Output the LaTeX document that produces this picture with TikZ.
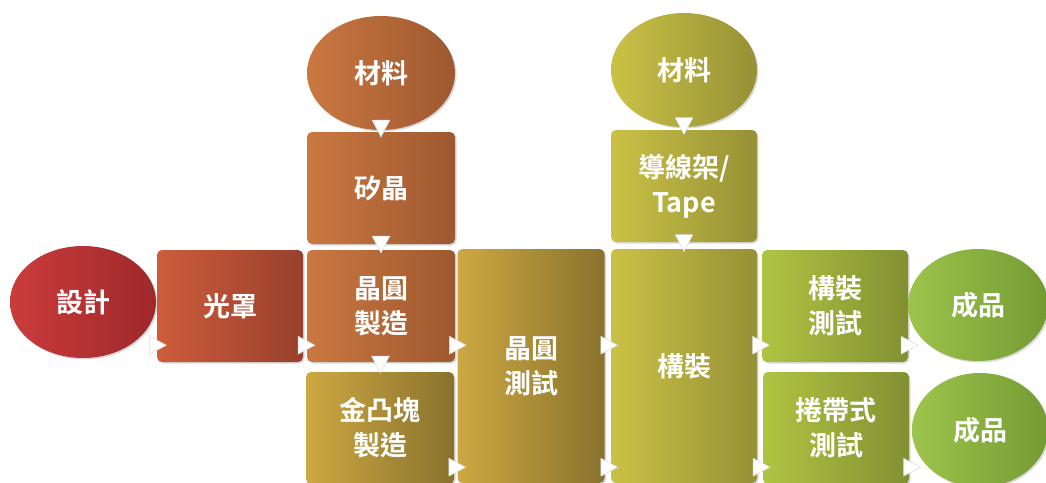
\documentclass[tikz,border=0pt]{standalone}
\usepackage{fontspec}
\setmainfont{Noto Sans CJK TC}[BoldFont={* Bold}]
\usetikzlibrary{calc}
\usetikzlibrary{shapes.geometric}
\usetikzlibrary{shadows}

\definecolor{redL}{RGB}{203,60,60}
\definecolor{redR}{RGB}{158,40,42}
\definecolor{rustL}{RGB}{206,92,60}
\definecolor{rustR}{RGB}{152,64,44}
\definecolor{orgL}{RGB}{202,120,64}
\definecolor{orgR}{RGB}{158,88,48}
\definecolor{goldL}{RGB}{205,168,66}
\definecolor{goldR}{RGB}{138,114,46}
\definecolor{oliveL}{RGB}{202,194,70}
\definecolor{oliveR}{RGB}{150,144,54}
\definecolor{limeL}{RGB}{176,196,66}
\definecolor{limeR}{RGB}{130,144,50}
\definecolor{grnL}{RGB}{157,196,76}
\definecolor{grnR}{RGB}{115,155,50}

\tikzset{
  blk/.style={rectangle, rounded corners=5pt, minimum width=146, minimum height=112,
    inner sep=0, text=white, align=center, font=\fontsize{27}{35}\selectfont\bfseries,
    drop shadow={shadow xshift=1.5pt, shadow yshift=-1.5pt, opacity=.3}},
  oval/.style={blk, ellipse, rounded corners=0pt},
  tri/.style={fill=white, draw=black!15, line width=.5pt},
  rtri/.pic={\filldraw[tri] (-8,-9) -- (9,0) -- (-8,9) -- cycle;},
  dtri/.pic={\filldraw[tri] (-9,-8) -- (9,-8) -- (0,9) -- cycle;}
}

\begin{document}
\begin{tikzpicture}[x=1pt, y=-1pt]
\useasboundingbox (0,0) rectangle (1046,482);
\clip (0,0) rectangle (1046,482);
\node[oval, minimum width=146, minimum height=112, left color=redL, right color=redR] (design) at (83,302) {設計};
\node[blk, left color=rustL, right color=rustR] (mask) at (230,306) {光罩};
\node[oval, minimum width=148, minimum height=114, left color=orgL, right color=orgR] (mat1) at (381,73) {材料};
\node[blk, minimum width=148, left color=orgL, right color=orgR] (silicon) at (381,188) {矽晶};
\node[blk, minimum width=148, left color=orgL, right color=orgR] (fab) at (381,306) {晶圓\\製造};
\node[blk, minimum width=148, left color=goldL, right color=goldR] (bump) at (380,428) {金凸塊\\製造};
\node[blk, minimum width=147, minimum height=234, left color=goldL, right color=goldR] (wtest) at (531,366) {晶圓\\測試};
\node[blk, minimum height=234, left color=oliveL, right color=oliveR] (pkg) at (684,366) {構裝};
\node[oval, minimum width=146, minimum height=114, left color=oliveL, right color=oliveR] (mat2) at (684,70) {材料};
\node[blk, left color=oliveL, right color=oliveR] (frame) at (684,186) {導線架/\\Tape};
\node[blk, left color=limeL, right color=limeR] (ptest) at (835,306) {構裝\\測試};
\node[blk, left color=limeL, right color=limeR] (ttest) at (836,428) {捲帶式\\測試};
\node[oval, minimum width=140, minimum height=112, left color=grnL, right color=grnR] (prod1) at (978,305) {成品};
\node[oval, minimum width=136, minimum height=114, left color=grnL, right color=grnR] (prod2) at (980,430) {成品};

% arrows along the rows
\foreach \a/\b/\r in {design/mask/mask, mask/fab/mask, fab/wtest/mask, wtest/pkg/mask,
    pkg/ptest/mask, ptest/prod1/mask, bump/wtest/bump, wtest/pkg/bump, pkg/ttest/bump, ttest/prod2/bump}
  \pic at ($(\a.east |- \r.south)!.5!(\b.west |- \r.south)+(1,-17)$) {rtri};
% arrows down the columns
\foreach \a/\b in {mat1/silicon, silicon/fab, fab/bump, mat2/frame, frame/pkg}
  \pic at ($(\a.south)!.5!(\b.north)+(0,-3)$) {dtri};
\end{tikzpicture}
\end{document}
